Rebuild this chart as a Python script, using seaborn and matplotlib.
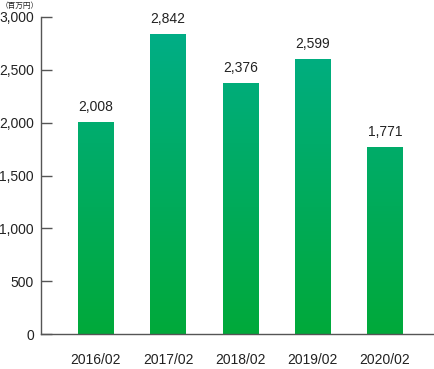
import numpy as np
import pandas as pd
import seaborn as sns
import matplotlib.pyplot as plt
from matplotlib.colors import LinearSegmentedColormap

years = ['2016/02', '2017/02', '2018/02', '2019/02', '2020/02']
values = [2008, 2842, 2376, 2599, 1771]
yticks = [0, 500, 1000, 1500, 2000, 2500, 3000]

df = pd.DataFrame({'year': years, 'value': values})

sns.set_style('white')
plt.rcParams['font.family'] = ['Liberation Sans', 'Noto Sans CJK JP']

fig = plt.figure(figsize=(4.34, 3.69), dpi=100)
ax = fig.add_axes([41 / 434, 35 / 369, 393 / 434, 317 / 369])

sns.barplot(data=df, x='year', y='value', color='#00a860', width=0.49,
            saturation=1, ax=ax)

# vertical gradient, same for every bar (depends on height only)
cmap = LinearSegmentedColormap.from_list('g', ['#00a93a', '#00ae8a'])
grad = np.linspace(0, 1, 256).reshape(-1, 1)
for p in ax.patches:
    im = ax.imshow(grad, cmap=cmap, origin='lower', aspect='auto',
                   extent=[-1, 5, 0, 3000], zorder=p.get_zorder() + 0.1)
    im.set_clip_path(p)

for i, v in enumerate(values):
    ax.text(i, v + 75, f'{v:,}', ha='center', va='bottom', fontsize=10,
            color='#222222')

ax.set_xlim(-0.76, 4.68)
ax.set_ylim(0, 3000)
ax.set_yticks(yticks)
ax.set_yticklabels([f'{t:,}' for t in yticks])
ax.set_xlabel('')
ax.set_ylabel('')

for s in ['top', 'right']:
    ax.spines[s].set_visible(False)
for s in ['left', 'bottom']:
    ax.spines[s].set_color('#555555')
    ax.spines[s].set_linewidth(1.0)

ax.tick_params(axis='y', direction='in', length=8, width=1, color='#555555',
               labelsize=10, labelcolor='#222222', pad=5, left=True)
ax.tick_params(axis='x', length=0, labelsize=10, labelcolor='#222222', pad=14)

fig.text(1 / 434, 1 - 2 / 369, '（百万円）', ha='left', va='top', fontsize=5.5,
         family=['Noto Sans CJK JP', 'DejaVu Sans'], color='#222222')

fig.savefig('out.png', dpi=100)
